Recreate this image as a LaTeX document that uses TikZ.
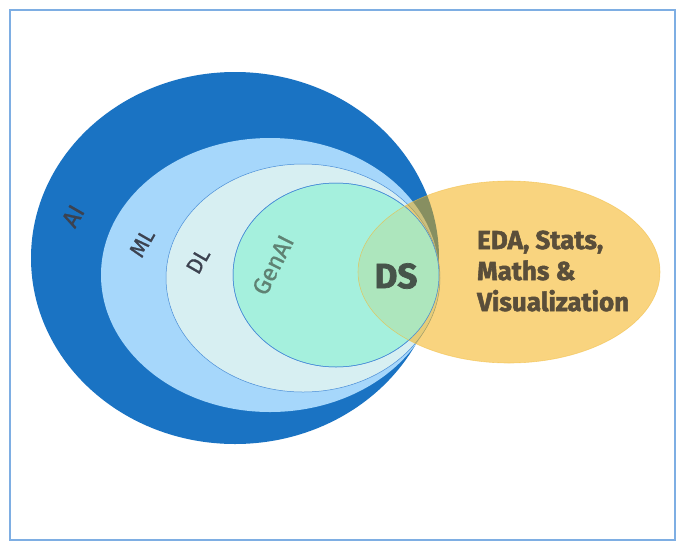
\documentclass[tikz,border=0pt]{standalone}
\usepackage{fontspec}
\setmainfont{Fira Sans}
\newfontfamily\heavyfont{Fira Sans}[FakeBold=2]
\newfontfamily\lblfont{Fira Sans}[FakeBold=0.8]
\definecolor{framec}{HTML}{7EAEE3}
\definecolor{aic}{HTML}{1A73C3}
\definecolor{mlc}{HTML}{A6D7FB}
\definecolor{dlc}{HTML}{D7EFF2}
\definecolor{genc}{HTML}{A5F0DD}
\definecolor{ovc}{HTML}{ADE6BD}
\definecolor{orc}{HTML}{F5AB00}
\definecolor{orline}{HTML}{F2BE45}
\definecolor{linec}{HTML}{4A8ED8}
\definecolor{lblc}{HTML}{3C4250}
\definecolor{genlbl}{HTML}{5F8273}
\definecolor{dsc}{HTML}{46544A}
\definecolor{brownc}{HTML}{5A4E3A}
\tikzset{
  lbl/.style={inner sep=0pt, text=lblc, font=\lblfont\fontsize{22}{22}\selectfont},
  heavy/.style={inner sep=0pt},
}
\begin{document}
\begin{tikzpicture}[x=1pt,y=-1pt]
\useasboundingbox (0,0) rectangle (685,550);
\fill[white] (0,0) rectangle (685,550);
\draw[framec, line width=1.2pt] (10,10) rectangle (675,540);
% nested sets
\fill[aic] (235,258) ellipse [x radius=204pt, y radius=186pt];
\fill[mlc] (270,275) ellipse [x radius=169pt, y radius=137pt];
\filldraw[fill=dlc, draw=linec, line width=0.5pt] (303,278) ellipse [x radius=137pt, y radius=114pt];
\filldraw[fill=genc, draw=linec, line width=0.5pt] (336,275) ellipse [x radius=103pt, y radius=92pt];
% DS ellipse
\fill[orc, fill opacity=0.5] (509,272) ellipse [x radius=151pt, y radius=91pt];
\begin{scope}
  \clip (336,275) ellipse [x radius=103pt, y radius=92pt];
  \fill[ovc] (509,272) ellipse [x radius=151pt, y radius=91pt];
\end{scope}
\draw[linec, line width=0.5pt] (336,275) ellipse [x radius=103pt, y radius=92pt];
\draw[orline, line width=0.6pt, opacity=0.6] (509,272) ellipse [x radius=151pt, y radius=91pt];
% labels
\node[lbl, rotate=60, font=\lblfont\fontsize{24}{24}\selectfont] (ai) at (73,216) {AI};
\node[lbl, rotate=60] (ml) at (142,243) {ML};
\node[lbl, rotate=60] (dl) at (198,261) {DL};
\node[lbl, rotate=63, text=genlbl, font=\lblfont\fontsize{24}{24}\selectfont] (genai) at (273,265) {GenAI};
\node[heavy, text=dsc, font=\heavyfont\fontsize{35}{35}\selectfont\bfseries] (ds) at (396,276) {DS};
\node[heavy, text=brownc, anchor=west, align=left, font=\heavyfont\fontsize{26}{31}\selectfont\bfseries] (eda) at (477,271) {EDA, Stats,\\Maths \&\\Visualization};
\end{tikzpicture}
\end{document}
